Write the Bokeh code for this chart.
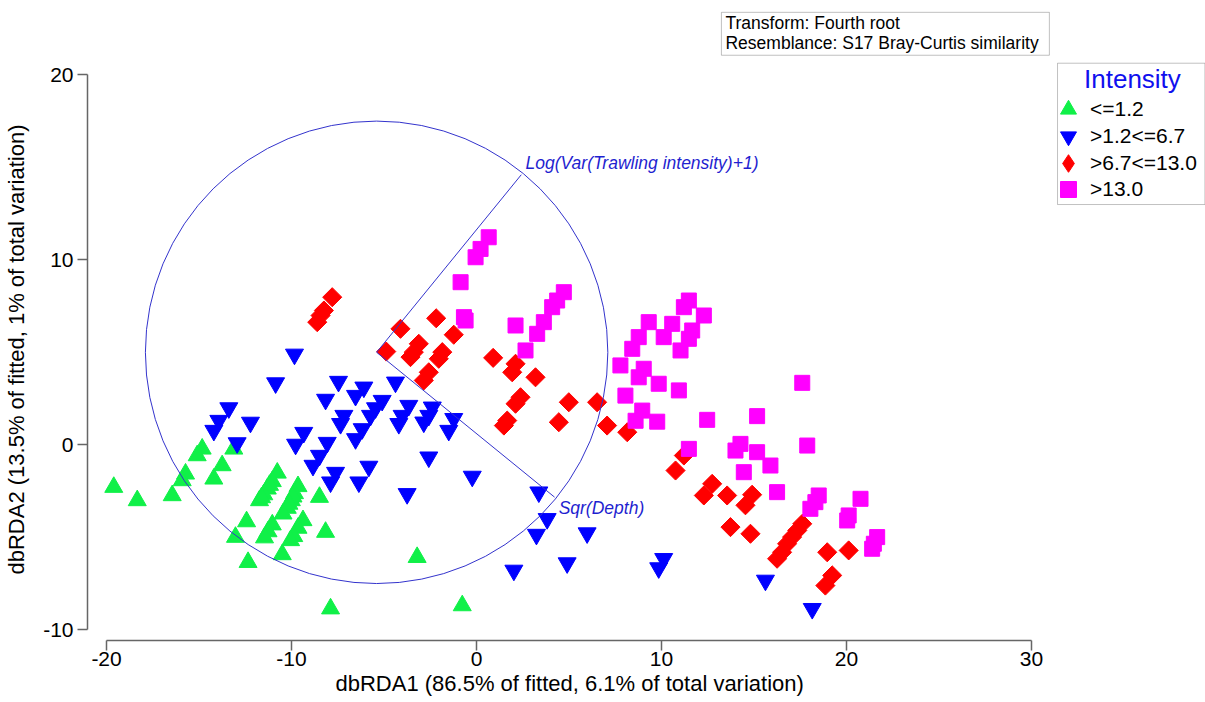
import math
from bokeh.plotting import figure
from bokeh.models import Range1d, Label, BoxAnnotation, Legend, LegendItem, Title
from bokeh.embed import file_html
from bokeh.resources import INLINE

# ---------------- data ----------------
categories = ["<=1.2", ">1.2<=6.7", ">6.7<=13.0", ">13.0"]

green_x = [-19.61, -18.34, -16.45, -14.83, -15.10, -13.12, -15.73, -15.91, -13.75, -14.20,
           -10.77, -11.04, -11.31, -11.50, -11.73, -9.65, -9.84, -10.01, -10.23, -10.46,
           -11.04, -11.27, -11.46, -9.38, -9.65, -9.88, -10.05, -12.43, -13.03, -12.35,
           -10.50, -8.49, -8.16, -7.89, -3.21, -0.77, -11.19, -11.62, -9.92, -10.14]
green_y = [-2.29, -3.01, -2.74, -0.22, -0.58, -0.22, -1.57, -1.93, -1.12, -1.84,
           -1.52, -1.98, -2.38, -2.69, -3.01, -2.25, -2.63, -3.01, -3.42, -3.73,
           -4.32, -4.69, -5.02, -4.09, -4.50, -4.95, -5.17, -4.15, -4.99, -6.35,
           -5.93, -2.83, -4.72, -8.86, -6.08, -8.69, -2.18, -2.85, -2.81, -3.20]

blue_x = [-9.84, -10.86, -13.39, -13.93, -14.20, -12.22, -12.94, -7.46, -6.09, -6.54,
          -8.16, -4.38, -5.10, -5.46, -5.73, -7.17, -3.66, -4.02, -2.39, -2.58,
          -2.85, -1.23, -9.34, -9.78, -8.07, -8.49, -8.84, -7.35, -6.18, -6.54,
          -7.62, -7.89, -5.82, -6.36, -4.20, -1.50, -2.58, -3.75, -0.23, 3.37,
          3.82, 3.24, 5.98, 2.02, 4.90, 10.12, 9.85, 15.62, 18.15]
blue_y = [4.89, 3.34, 1.99, 1.31, 0.77, 1.21, 0.10, 3.42, 3.11, 2.66,
          2.45, 3.38, 2.39, 1.99, 1.58, 1.58, 2.12, 1.58, 2.03, 1.58,
          1.22, 1.41, 0.66, 0.02, 0.12, -0.58, -1.12, 1.14, 0.86, 0.32,
          -1.50, -2.02, -1.17, -2.02, 1.14, 0.77, -0.67, -2.65, -1.71, -2.56,
          -4.00, -4.85, -4.77, -6.79, -6.39, -6.16, -6.66, -7.33, -8.86]

red_x = [-7.80, -8.25, -8.43, -8.61, -4.11, -4.88, -2.18, -1.23, -3.12, -3.39,
         -3.57, -1.85, -2.04, -2.58, -2.85, 0.90, 2.11, 1.93, 3.19, 2.38,
         2.11, 1.66, 1.48, 4.99, 4.45, 6.52, 7.06, 8.15, 11.21, 10.76,
         12.74, 12.29, 13.55, 14.90, 14.54, 13.73, 14.81, 17.61, 17.34, 17.06,
         16.79, 16.52, 16.25, 18.96, 20.12, 19.23, 18.86]
red_y = [7.98, 7.26, 6.99, 6.63, 6.27, 5.04, 6.84, 5.95, 5.46, 5.01,
         4.74, 5.01, 4.65, 3.92, 3.48, 4.70, 4.38, 3.92, 3.65, 2.57,
         2.22, 1.31, 1.04, 2.30, 1.22, 2.30, 1.04, 0.68, -0.58, -1.39,
         -2.11, -2.74, -2.74, -2.70, -3.27, -4.45, -4.81, -4.27, -4.63, -4.99,
         -5.35, -5.81, -6.16, -5.81, -5.71, -7.06, -7.61]

magenta_x = [0.66, 0.22, -0.05, -0.86, -0.68, -0.59, 2.11, 4.72, 4.36, 4.09,
             3.64, 3.28, 2.65, 11.48, 11.21, 12.29, 9.31, 10.58, 8.77, 10.12,
             11.66, 11.48, 8.42, 11.03, 7.78, 9.04, 8.77, 9.85, 10.94, 8.05,
             8.96, 8.60, 9.77, 12.47, 15.17, 17.61, 11.48, 14.27, 14.00, 15.17,
             17.88, 14.45, 15.89, 16.25, 18.50, 18.32, 18.05, 20.76, 20.12, 20.04,
             21.66, 21.48, 21.39]
magenta_y = [11.22, 10.59, 10.14, 8.79, 6.90, 6.72, 6.45, 8.25, 7.80, 7.44,
             6.63, 6.00, 5.10, 7.80, 7.44, 6.99, 6.63, 6.54, 5.82, 5.82,
             6.18, 5.73, 5.19, 5.10, 4.29, 4.11, 3.65, 3.30, 2.94, 2.66,
             1.85, 1.30, 1.25, 1.35, 1.55, 3.35, -0.22, 0.05, -0.31, -0.40,
             -0.04, -1.48, -1.12, -2.56, -2.74, -3.10, -3.46, -2.92, -3.82, -4.09,
             -4.99, -5.35, -5.62]

# correlation circle and vectors
circle_x = [-5.4]
circle_y = [5.0]
circle_r = [12.5]
vector_labels = ["Log(Var(Trawling intensity)+1)", "Sqr(Depth)"]
vector_end_x = [2.42, 4.22]
vector_end_y = [14.60, -2.83]

x_ticks = [-20, -10, 0, 10, 20, 30]
y_ticks = [-10, 0, 10, 20]
x_title = "dbRDA1 (86.5% of fitted, 6.1% of total variation)"
y_title = "dbRDA2 (13.5% of fitted, 1% of total variation)"
info_lines = ["Transform: Fourth root", "Resemblance: S17 Bray-Curtis similarity"]
legend_title = "Intensity"

# ---------------- styling ----------------
FONT = "Liberation Sans"
COL_G = "#10f048"
COL_B = "#0000ff"
COL_R = "#ff0000"
COL_M = "#ff00ff"
VEC = "#3333cc"

p = figure(width=1205, height=702, output_backend="svg", toolbar_location=None,
           x_range=Range1d(-21.03, 39.41), y_range=Range1d(-10.58, 24.02),
           min_border_left=87, min_border_right=0, min_border_top=0, min_border_bottom=62)
p.outline_line_color = None
p.xgrid.visible = False
p.ygrid.visible = False
p.background_fill_color = "white"

p.xaxis.ticker = x_ticks
p.yaxis.ticker = y_ticks
p.xaxis.bounds = (x_ticks[0], x_ticks[-1])
p.yaxis.bounds = (y_ticks[0], y_ticks[-1])
p.xaxis.major_label_overrides = {t: str(t) for t in x_ticks}
p.yaxis.major_label_overrides = {t: str(t) for t in y_ticks}
for ax in (p.xaxis[0], p.yaxis[0]):
    ax.axis_line_color = "#666666"
    ax.axis_line_width = 1.5
    ax.major_tick_line_color = "#666666"
    ax.major_tick_line_width = 1.5
    ax.major_tick_out = 10
    ax.major_tick_in = 0
    ax.minor_tick_out = 0
    ax.minor_tick_in = 0
    ax.major_label_text_font = FONT
    ax.major_label_text_font_size = "21px"
    ax.major_label_text_color = "black"
p.xaxis.major_label_standoff = 1
p.yaxis.major_label_standoff = 4
# tiny blank label only to leave a little room between tick labels and the title
p.yaxis.axis_label = " "
p.yaxis.axis_label_text_font_size = "1px"
p.yaxis.axis_label_standoff = 8

# axis titles as side titles, aligned on the bounded axis lines
p.add_layout(Title(text=x_title, align="left", offset=248, standoff=0, text_font=FONT,
                   text_font_size="22px", text_font_style="normal", text_color="black"), "below")
p.add_layout(Title(text=y_title, align="left", offset=66, standoff=0, text_font=FONT,
                   text_font_size="22px", text_font_style="normal", text_color="black"), "left")

rg = p.scatter(green_x, green_y, marker="triangle", size=18, fill_color=COL_G, line_color=COL_G)
rb = p.scatter(blue_x, blue_y, marker="inverted_triangle", size=18, fill_color=COL_B, line_color=COL_B)
rr = p.scatter(red_x, red_y, marker="square", angle=math.pi / 4, size=13.5, fill_color=COL_R, line_color=COL_R)
rm = p.scatter(magenta_x, magenta_y, marker="square", size=15, fill_color=COL_M, line_color=COL_M)
# hidden copy used only for the diamond key in the legend
rr_key = p.scatter(red_x, red_y, marker="diamond", size=13.5, fill_color=COL_R, line_color=COL_R,
                   visible=False)

# circle and vectors
p.circle(x=circle_x, y=circle_y, radius=circle_r, fill_color=None, line_color=VEC, line_width=1)
p.segment(x0=[circle_x[0]] * len(vector_end_x), y0=[circle_y[0]] * len(vector_end_y),
          x1=vector_end_x, y1=vector_end_y, line_color=VEC, line_width=1)
label_shift = [(0.23, 0.66), (0.22, -0.61)]
for lab, ex, ey, (dx, dy) in zip(vector_labels, vector_end_x, vector_end_y, label_shift):
    p.add_layout(Label(x=ex + dx, y=ey + dy, text=lab, text_font=FONT, text_font_size="17.5px",
                       text_font_style="italic", text_color="#1f1fd0", text_baseline="middle",
                       text_align="left"))

# info box (top)
p.add_layout(BoxAnnotation(left=13.24, right=30.97, top=23.38, bottom=21.06,
                           fill_color=None, fill_alpha=0, line_color="#333333", line_width=1))
for txt, yy in zip(info_lines, [22.83, 21.70]):
    p.add_layout(Label(x=13.46, y=yy, text=txt, text_font=FONT, text_font_size="17.5px",
                       text_color="black", text_baseline="middle", text_align="left"))

# legend frame + title
p.add_layout(BoxAnnotation(left=31.41, right=39.38, top=20.63, bottom=12.99,
                           fill_color=None, fill_alpha=0, line_color="#333333", line_width=1))
p.add_layout(Label(x=35.46, y=19.80, text=legend_title, text_font=FONT, text_font_size="26px",
                   text_color="#1010ee", text_baseline="middle", text_align="center"))

# one legend per entry so that each row can be placed exactly
key_renderers = [rg, rb, rr_key, rm]
key_glyph = [40, 40, 44, 40]
key_standoff = [2, 2, 0, 2]
key_loc = [(961, 511), (961, 484), (959, 455), (961, 431)]
for c, r, g, s, loc in zip(categories, key_renderers, key_glyph, key_standoff, key_loc):
    p.add_layout(Legend(items=[LegendItem(label=c, renderers=[r])], location=loc,
                        glyph_width=g, glyph_height=g, padding=0, margin=0, spacing=0,
                        label_standoff=s, label_text_font=FONT, label_text_font_size="21px",
                        label_text_color="black", border_line_alpha=0, background_fill_alpha=0,
                        inactive_fill_alpha=0))

open("out.html", "w").write(file_html(p, INLINE))
